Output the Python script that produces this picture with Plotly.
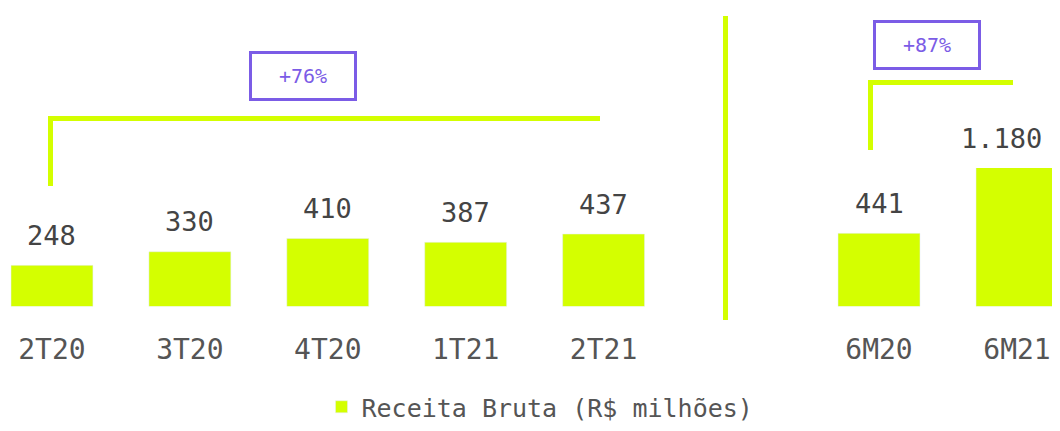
import plotly.graph_objects as go

# ---- data ----
quarters = ["2T20", "3T20", "4T20", "1T21", "2T21"]
quarter_values = [248, 330, 410, 387, 437]
semesters = ["6M20", "6M21"]
semester_values = [441, 1180]
series_name = "Receita Bruta (R$ milhões)"
growth_quarter = "+76%"
growth_semester = "+87%"

# ---- style ----
# the page body keeps the browser's default 8px margin; design coordinates below are
# window pixels, converted to figure paper fractions with that offset removed
OFF = 8
WIN_W, WIN_H = 1060, 431
W, H = WIN_W - OFF, WIN_H - 2 * OFF
VISIBLE_RIGHT = WIN_W - 2 * OFF   # last visible window pixel column
LIME = "#d4ff00"
PURPLE = "#7b5ce6"
FONT = "DejaVu Sans Mono"
YMAX = 835
LABEL_SIZE = 27


def px(x):
    return (x - OFF) / W


def py(y):
    return (H - (y - OFF)) / H


def fmt(v):
    return f"{v:,}".replace(",", ".")


fig = go.Figure()
fig.add_trace(go.Bar(x=quarters, y=quarter_values, marker_color=LIME, name=series_name,
                     legendgroup="rb", xaxis="x", yaxis="y"))
fig.add_trace(go.Bar(x=semesters, y=semester_values, marker_color=LIME, name=series_name,
                     legendgroup="rb", showlegend=False, xaxis="x2", yaxis="y2"))

annotations = []
for cats, vals, xr, yr in [(quarters, quarter_values, "x", "y"), (semesters, semester_values, "x2", "y2")]:
    for c, v in zip(cats, vals):
        annotations.append(dict(x=c, y=min(v, YMAX), xref=xr, yref=yr, text=fmt(v), showarrow=False,
                                yanchor="middle", yshift=30,
                                font=dict(family=FONT, size=LABEL_SIZE, color="#444444")))
# keep the rightmost value label inside the visible page width
last_center = 1017
last_half = len(fmt(semester_values[-1])) * LABEL_SIZE * 0.602 / 2
annotations[-1]["xshift"] = min(0, VISIBLE_RIGHT - 2 - (last_center + last_half))

for txt, cx, cy in [(growth_quarter, 303, 75.5), (growth_semester, 926.5, 45)]:
    annotations.append(dict(x=px(cx), y=py(cy), xref="paper", yref="paper", text=txt, showarrow=False,
                            xanchor="center", yanchor="middle", width=100, height=42,
                            bordercolor=PURPLE, borderwidth=3, bgcolor="white",
                            font=dict(family=FONT, size=20, color=PURPLE)))

shapes = [
    dict(type="path", xref="paper", yref="paper",
         path=f"M {px(50.5)},{py(186)} L {px(50.5)},{py(118.5)} L {px(600)},{py(118.5)}",
         line=dict(color=LIME, width=5)),
    dict(type="path", xref="paper", yref="paper",
         path=f"M {px(870.5)},{py(150)} L {px(870.5)},{py(82.5)} L {px(1013)},{py(82.5)}",
         line=dict(color=LIME, width=5)),
    dict(type="line", xref="paper", yref="paper", x0=px(725.5), x1=px(725.5), y0=py(16), y1=py(320),
         line=dict(color=LIME, width=5)),
]

axis_common = dict(showgrid=False, zeroline=False, showline=False, ticks="",
                   tickfont=dict(family=FONT, size=28, color="#555555"), ticklabelstandoff=23)
yaxis_common = dict(range=[0, YMAX], showgrid=False, zeroline=False, showticklabels=False,
                    domain=[py(306.5), py(168)])

fig.update_layout(
    width=W, height=H,
    margin=dict(l=0, r=0, t=0, b=0, autoexpand=False),
    paper_bgcolor="white", plot_bgcolor="white",
    bargap=0.406,
    xaxis=dict(domain=[0, px(725.5)], range=[-(52 - OFF) / 138, 4 + 122 / 138], type="category", **axis_common),
    xaxis2=dict(domain=[px(725.5), 1], range=[-(879 - 725.5) / 138, 1 + (WIN_W - 1017) / 138],
                type="category", anchor="y2", **axis_common),
    yaxis=dict(anchor="x", **yaxis_common),
    yaxis2=dict(anchor="x2", **yaxis_common),
    showlegend=True,
    legend=dict(orientation="h", x=px(540), xanchor="center", y=py(407), yanchor="middle",
                font=dict(family=FONT, size=25, color="#555555"), bgcolor="rgba(0,0,0,0)"),
    annotations=annotations,
    shapes=shapes,
)

fig.write_html("out.html", config={"displayModeBar": False})
